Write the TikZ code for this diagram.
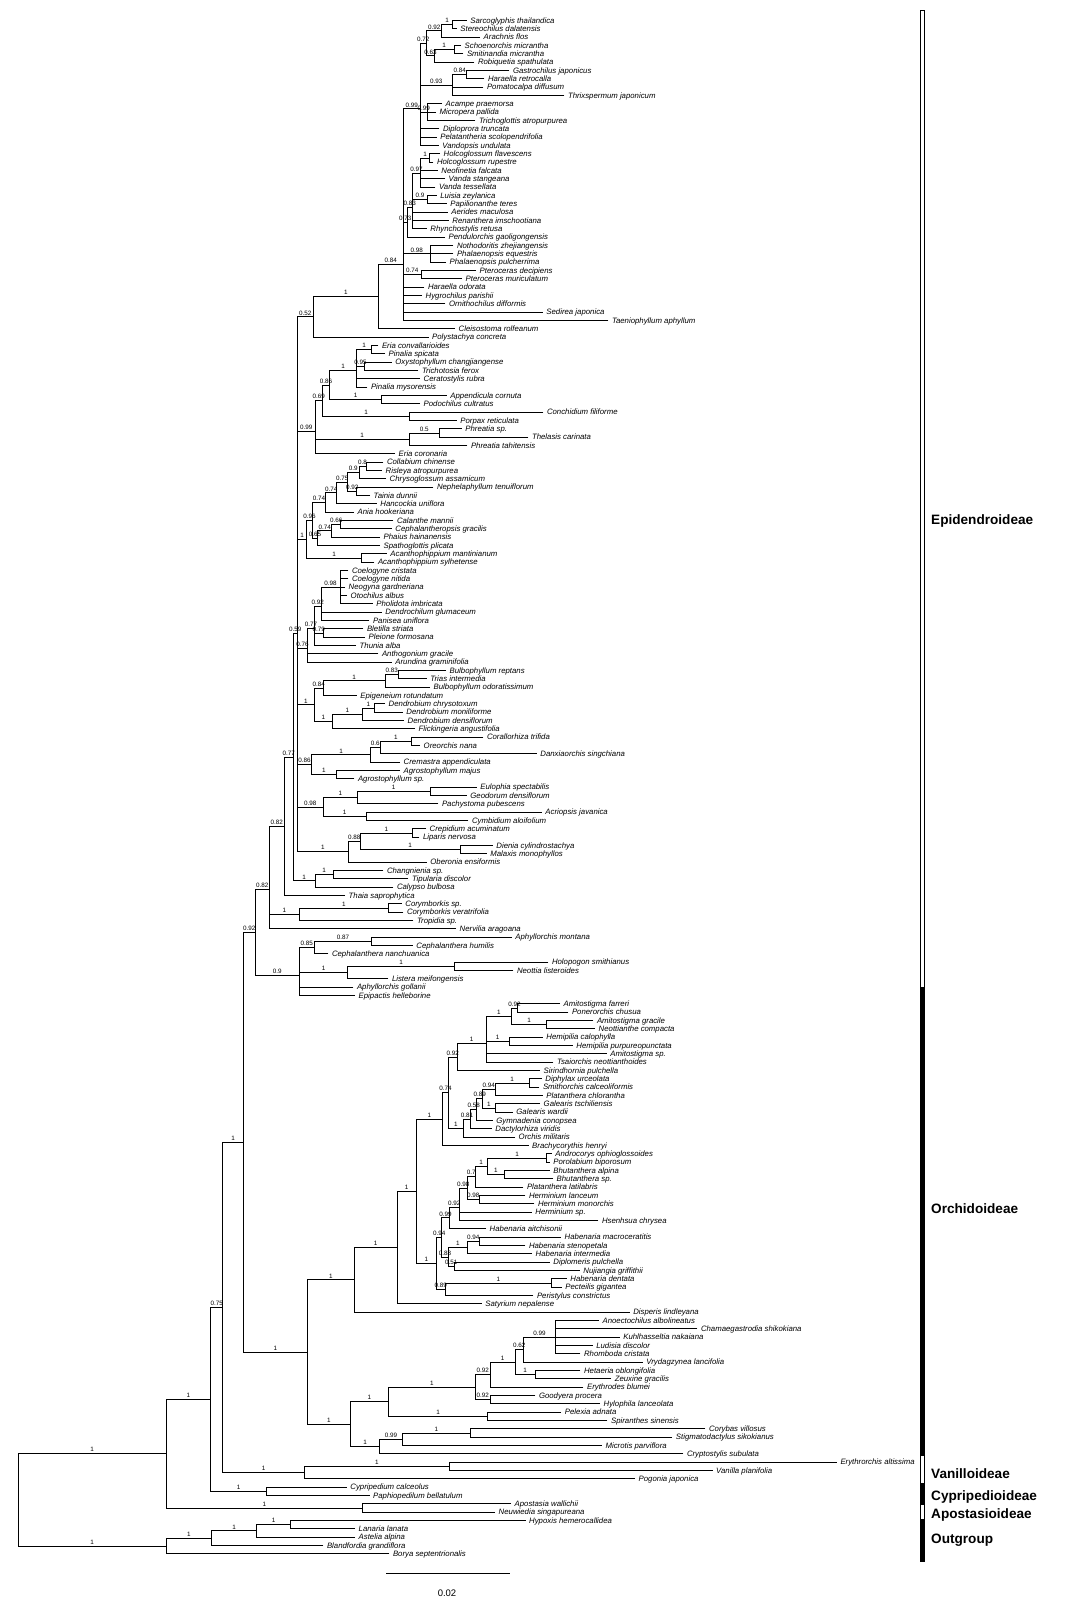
\documentclass[tikz,border=0pt]{standalone}
\usepackage{fontspec}
\setmainfont{Liberation Sans}
\usepackage{xfp}
\newcommand\leaffont{\fontsize{7.8}{9}\selectfont\itshape}
\newcommand\supfont{\fontsize{6.3}{7}\selectfont}
\newcommand\cladefont{\fontsize{13.6}{15}\selectfont\bfseries}
\newcommand\leaf[4]{%
  \expandafter\xdef\csname ty@#1\endcsname{\fpeval{20.5+8.3333*(#2)}}%
  \expandafter\xdef\csname tx@#1\endcsname{#3}%
  \expandafter\gdef\csname sp@#1\endcsname{}%
  \coordinate (#1) at (#3,\csname ty@#1\endcsname);%
  \node[leaflab] (t#1) at (#1) {#4};}
\newcommand\inode[4]{%
  \gdef\tmpsum{0}\gdef\tmpn{0}%
  \foreach \ch in {#4}{\xdef\tmpsum{\fpeval{\tmpsum+\csname ty@\ch\endcsname}}\xdef\tmpn{\fpeval{\tmpn+1}}}%
  \expandafter\xdef\csname ty@#1\endcsname{\fpeval{\tmpsum/\tmpn}}%
  \expandafter\xdef\csname tx@#1\endcsname{#2}%
  \expandafter\gdef\csname sp@#1\endcsname{#3}%
  \coordinate (#1) at (#2,\csname ty@#1\endcsname);%
  \foreach \ch in {#4}{%
    \draw[br] (\ch) -| (#1);%
    \edef\spv{\csname sp@\ch\endcsname}%
    \ifx\spv\empty\else
      \node[sup] (s\ch) at ({(#2+\csname tx@\ch\endcsname)/2},\csname ty@\ch\endcsname) {\spv};%
    \fi}}
\begin{document}
\begin{tikzpicture}[x=1pt,y=-1pt,
  br/.style={line width=0.9pt},
  leaflab/.style={anchor=base west,inner sep=0pt,xshift=3.5pt,yshift=-2.6pt,font=\leaffont},
  sup/.style={anchor=base,inner sep=0pt,yshift=1.8pt,font=\supfont},
  clade/.style={anchor=west,inner sep=0pt,font=\cladefont},
  openbar/.style={draw=black,fill=white,line width=0.8pt},
  fullbar/.style={draw=black,fill=black,line width=0.8pt}]
\fill[white] (0,0) rectangle (1091,1616);
\useasboundingbox (0,0) rectangle (1091,1616);
% ---------------- leaves
\leaf{l0}{0}{466.7}{Sarcoglyphis thailandica}
\leaf{l1}{1}{456.7}{Stereochilus dalatensis}
\leaf{l2}{2}{480}{Arachnis flos}
\leaf{l3}{3}{461}{Schoenorchis micrantha}
\leaf{l4}{4}{463.3}{Smitinandia micrantha}
\leaf{l5}{5}{474.3}{Robiquetia spathulata}
\leaf{l6}{6}{509.3}{Gastrochilus japonicus}
\leaf{l7}{7}{484.3}{Haraella retrocalla}
\leaf{l8}{8}{483.3}{Pomatocalpa diffusum}
\leaf{l9}{9}{564.3}{Thrixspermum japonicum}
\leaf{l10}{10}{442}{Acampe praemorsa}
\leaf{l11}{11}{436}{Micropera pallida}
\leaf{l12}{12}{475.3}{Trichoglottis atropurpurea}
\leaf{l13}{13}{439.3}{Diploprora truncata}
\leaf{l14}{14}{436.7}{Pelatantheria scolopendrifolia}
\leaf{l15}{15}{438.7}{Vandopsis undulata}
\leaf{l16}{16}{440}{Holcoglossum flavescens}
\leaf{l17}{17}{433.3}{Holcoglossum rupestre}
\leaf{l18}{18}{437.7}{Neofinetia falcata}
\leaf{l19}{19}{445}{Vanda stangeana}
\leaf{l20}{20}{435.3}{Vanda tessellata}
\leaf{l21}{21}{436.7}{Luisia zeylanica}
\leaf{l22}{22}{446.7}{Papilionanthe teres}
\leaf{l23}{23}{447.7}{Aerides maculosa}
\leaf{l24}{24}{448.7}{Renanthera imschootiana}
\leaf{l25}{25}{426.7}{Rhynchostylis retusa}
\leaf{l26}{26}{445}{Pendulorchis gaoligongensis}
\leaf{l27}{27}{453.3}{Nothodoritis zhejiangensis}
\leaf{l28}{28}{453.3}{Phalaenopsis equestris}
\leaf{l29}{29}{446}{Phalaenopsis pulcherrima}
\leaf{l30}{30}{476}{Pteroceras decipiens}
\leaf{l31}{31}{462}{Pteroceras muriculatum}
\leaf{l32}{32}{424.3}{Haraella odorata}
\leaf{l33}{33}{422}{Hygrochilus parishii}
\leaf{l34}{34}{445.3}{Ornithochilus difformis}
\leaf{l35}{35}{542.7}{Sedirea japonica}
\leaf{l36}{36}{608.3}{Taeniophyllum aphyllum}
\leaf{l37}{37}{455}{Cleisostoma rolfeanum}
\leaf{l38}{38}{428.5}{Polystachya concreta}
\leaf{l39}{39}{378.3}{Eria convallarioides}
\leaf{l40}{40}{385}{Pinalia spicata}
\leaf{l41}{41}{391.7}{Oxystophyllum changjiangense}
\leaf{l42}{42}{418.3}{Trichotosia ferox}
\leaf{l43}{43}{420}{Ceratostylis rubra}
\leaf{l44}{44}{367.3}{Pinalia mysorensis}
\leaf{l45}{45}{446.7}{Appendicula cornuta}
\leaf{l46}{46}{420}{Podochilus cultratus}
\leaf{l47}{47}{543.3}{Conchidium filiforme}
\leaf{l48}{48}{456.7}{Porpax reticulata}
\leaf{l49}{49}{461.7}{Phreatia sp.}
\leaf{l50}{50}{528.3}{Thelasis carinata}
\leaf{l51}{51}{467.3}{Phreatia tahitensis}
\leaf{l52}{52}{395}{Eria coronaria}
\leaf{l53}{53}{383.3}{Collabium chinense}
\leaf{l54}{54}{382}{Risleya atropurpurea}
\leaf{l55}{55}{386}{Chrysoglossum assamicum}
\leaf{l56}{56}{433.3}{Nephelaphyllum tenuiflorum}
\leaf{l57}{57}{370}{Tainia dunnii}
\leaf{l58}{58}{376.7}{Hancockia uniflora}
\leaf{l59}{59}{354}{Ania hookeriana}
\leaf{l60}{60}{393.3}{Calanthe mannii}
\leaf{l61}{61}{391.7}{Cephalantheropsis gracilis}
\leaf{l62}{62}{380}{Phaius hainanensis}
\leaf{l63}{63}{380}{Spathoglottis plicata}
\leaf{l64}{64}{386.7}{Acanthophippium mantinianum}
\leaf{l65}{65}{374.3}{Acanthophippium sylhetense}
\leaf{l66}{66}{348.3}{Coelogyne cristata}
\leaf{l67}{67}{348.3}{Coelogyne nitida}
\leaf{l68}{68}{345}{Neogyna gardneriana}
\leaf{l69}{69}{347}{Otochilus albus}
\leaf{l70}{70}{372.7}{Pholidota imbricata}
\leaf{l71}{71}{381.7}{Dendrochilum glumaceum}
\leaf{l72}{72}{369.3}{Panisea uniflora}
\leaf{l73}{73}{363.3}{Bletilla striata}
\leaf{l74}{74}{365}{Pleione formosana}
\leaf{l75}{75}{356}{Thunia alba}
\leaf{l76}{76}{378.3}{Anthogonium gracile}
\leaf{l77}{77}{391.7}{Arundina graminifolia}
\leaf{l78}{78}{446}{Bulbophyllum reptans}
\leaf{l79}{79}{426.7}{Trias intermedia}
\leaf{l80}{80}{430}{Bulbophyllum odoratissimum}
\leaf{l81}{81}{356.7}{Epigeneium rotundatum}
\leaf{l82}{82}{385}{Dendrobium chrysotoxum}
\leaf{l83}{83}{402.7}{Dendrobium moniliforme}
\leaf{l84}{84}{404}{Dendrobium densiflorum}
\leaf{l85}{85}{415}{Flickingeria angustifolia}
\leaf{l86}{86}{483.3}{Corallorhiza trifida}
\leaf{l87}{87}{420}{Oreorchis nana}
\leaf{l88}{88}{536.7}{Danxiaorchis singchiana}
\leaf{l89}{89}{400}{Cremastra appendiculata}
\leaf{l90}{90}{400}{Agrostophyllum majus}
\leaf{l91}{91}{354.3}{Agrostophyllum sp.}
\leaf{l92}{92}{476.7}{Eulophia spectabilis}
\leaf{l93}{93}{466.7}{Geodorum densiflorum}
\leaf{l94}{94}{438.3}{Pachystoma pubescens}
\leaf{l95}{95}{541.7}{Acriopsis javanica}
\leaf{l96}{96}{468.3}{Cymbidium aloifolium}
\leaf{l97}{97}{426}{Crepidium acuminatum}
\leaf{l98}{98}{419.3}{Liparis nervosa}
\leaf{l99}{99}{492.7}{Dienia cylindrostachya}
\leaf{l100}{100}{486.7}{Malaxis monophyllos}
\leaf{l101}{101}{426.7}{Oberonia ensiformis}
\leaf{l102}{102}{383.3}{Changnienia sp.}
\leaf{l103}{103}{408.3}{Tipularia discolor}
\leaf{l104}{104}{393.3}{Calypso bulbosa}
\leaf{l105}{105}{345}{Thaia saprophytica}
\leaf{l106}{106}{401.7}{Corymborkis sp.}
\leaf{l107}{107}{403.3}{Corymborkis veratrifolia}
\leaf{l108}{108}{413.3}{Tropidia sp.}
\leaf{l109}{109}{456}{Nervilia aragoana}
\leaf{l110}{110}{511.7}{Aphyllorchis montana}
\leaf{l111}{111}{412.7}{Cephalanthera humilis}
\leaf{l112}{112}{328.3}{Cephalanthera nanchuanica}
\leaf{l113}{113}{548.3}{Holopogon smithianus}
\leaf{l114}{114}{513.3}{Neottia listeroides}
\leaf{l115}{115}{388.3}{Listera meifongensis}
\leaf{l116}{116}{353.3}{Aphyllorchis gollanii}
\leaf{l117}{117}{355}{Epipactis helleborine}
\leaf{l118}{118}{560}{Amitostigma farreri}
\leaf{l119}{119}{568.3}{Ponerorchis chusua}
\leaf{l120}{120}{593.3}{Amitostigma gracile}
\leaf{l121}{121}{595}{Neottianthe compacta}
\leaf{l122}{122}{542.7}{Hemipilia calophylla}
\leaf{l123}{123}{572.7}{Hemipilia purpureopunctata}
\leaf{l124}{124}{606.7}{Amitostigma sp.}
\leaf{l125}{125}{553.3}{Tsaiorchis neottianthoides}
\leaf{l126}{126}{540}{Sirindhornia pulchella}
\leaf{l127}{127}{541.7}{Diphylax urceolata}
\leaf{l128}{128}{539.3}{Smithorchis calceoliformis}
\leaf{l129}{129}{542.7}{Platanthera chlorantha}
\leaf{l130}{130}{540}{Galearis tschiliensis}
\leaf{l131}{131}{512.7}{Galearis wardii}
\leaf{l132}{132}{492.7}{Gymnadenia conopsea}
\leaf{l133}{133}{491.7}{Dactylorhiza viridis}
\leaf{l134}{134}{515}{Orchis militaris}
\leaf{l135}{135}{528.5}{Brachycorythis henryi}
\leaf{l136}{136}{551.7}{Androcorys ophioglossoides}
\leaf{l137}{137}{549.7}{Porolabium biporosum}
\leaf{l138}{138}{549.7}{Bhutanthera alpina}
\leaf{l139}{139}{553}{Bhutanthera sp.}
\leaf{l140}{140}{523.3}{Platanthera latilabris}
\leaf{l141}{141}{525.3}{Herminium lanceum}
\leaf{l142}{142}{534.3}{Herminium monorchis}
\leaf{l143}{143}{531.7}{Herminium sp.}
\leaf{l144}{144}{598.3}{Hsenhsua chrysea}
\leaf{l145}{145}{486}{Habenaria aitchisonii}
\leaf{l146}{146}{561}{Habenaria macroceratitis}
\leaf{l147}{147}{525.3}{Habenaria stenopetala}
\leaf{l148}{148}{532}{Habenaria intermedia}
\leaf{l149}{149}{549.7}{Diplomeris pulchella}
\leaf{l150}{150}{579.7}{Nujiangia griffithii}
\leaf{l151}{151}{566.7}{Habenaria dentata}
\leaf{l152}{152}{561.7}{Pecteilis gigantea}
\leaf{l153}{153}{533.3}{Peristylus constrictus}
\leaf{l154}{154}{481.6}{Satyrium nepalense}
\leaf{l155}{155}{629.6}{Disperis lindleyana}
\leaf{l156}{156}{598.9}{Anoectochilus albolineatus}
\leaf{l157}{157}{697.3}{Chamaegastrodia shikokiana}
\leaf{l158}{158}{619.6}{Kuhlhasseltia nakaiana}
\leaf{l159}{159}{592.6}{Ludisia discolor}
\leaf{l160}{160}{580.4}{Rhomboda cristata}
\leaf{l161}{161}{642.6}{Vrydagzynea lancifolia}
\leaf{l162}{162}{580.4}{Hetaeria oblongifolia}
\leaf{l163}{163}{611.1}{Zeuxine gracilis}
\leaf{l164}{164}{583.4}{Erythrodes blumei}
\leaf{l165}{165}{535.3}{Goodyera procera}
\leaf{l166}{166}{600}{Hylophila lanceolata}
\leaf{l167}{167}{561.2}{Pelexia adnata}
\leaf{l168}{168}{607.4}{Spiranthes sinensis}
\leaf{l169}{169}{705.4}{Corybas villosus}
\leaf{l170}{170}{672.2}{Stigmatodactylus sikokianus}
\leaf{l171}{171}{601.9}{Microtis parviflora}
\leaf{l172}{172}{683.3}{Cryptostylis subulata}
\leaf{l173}{173}{836.8}{Erythrorchis altissima}
\leaf{l174}{174}{712.5}{Vanilla planifolia}
\leaf{l175}{175}{635}{Pogonia japonica}
\leaf{l176}{176}{346.7}{Cypripedium calceolus}
\leaf{l177}{177}{369.5}{Paphiopedilum bellatulum}
\leaf{l178}{178}{511}{Apostasia wallichii}
\leaf{l179}{179}{495}{Neuwiedia singapureana}
\leaf{l180}{180}{525.5}{Hypoxis hemerocallidea}
\leaf{l181}{181}{355}{Lanaria lanata}
\leaf{l182}{182}{355}{Astelia alpina}
\leaf{l183}{183}{323.3}{Blandfordia grandiflora}
\leaf{l184}{184}{389.3}{Borya septentrionalis}
% ---------------- Aeridinae
\inode{a1}{452.7}{1}{l0,l1}
\inode{a2}{441.7}{0.92}{a1,l2}
\inode{a3}{454}{1}{l3,l4}
\inode{a4}{434.3}{0.63}{a3,l5}
\inode{a5}{426.7}{0.72}{a2,a4}
\inode{a6}{466.7}{0.84}{l6,l7}
\inode{a7}{452.7}{0.93}{a6,l8,l9}
\inode{a8}{427.7}{0.99}{l10,l11,l12}
\inode{a9}{420}{0.99}{a5,a7,a8,l13,l14,l15}
\inode{a10}{429.3}{1}{l16,l17}
\inode{a11}{420.7}{0.97}{a10,l18,l19,l20}
\inode{a12}{427.7}{0.9}{l21,l22}
\inode{a13}{412.3}{0.83}{a11,a12,l23,l24,l25}
\inode{a14}{407.3}{0.73}{a13,l26}
\inode{a15}{430}{0.98}{l27,l28,l29}
\inode{a16}{421}{0.74}{l30,l31}
\inode{a17}{403.3}{0.84}{a9,a14,a15,a16,l32,l33,l34,l35,l36}
\inode{a18}{378.3}{1}{a17,l37}
\inode{a19}{313.3}{0.52}{a18,l38}
% ---------------- Podochileae
\inode{b1}{371.7}{1}{l39,l40}
\inode{b2}{364.3}{0.95}{l41,l42}
\inode{b3}{356.7}{1}{b1,b2,l43,l44}
\inode{b4}{381.7}{1}{l45,l46}
\inode{b5}{329.3}{0.86}{b3,b4}
\inode{b6}{409.3}{1}{l47,l48}
\inode{b7}{322.7}{0.69}{b5,b6}
\inode{b8}{439.3}{0.5}{l49,l50}
\inode{b9}{409.3}{1}{b8,l51}
\inode{b10}{315}{0.99}{b7,b9,l52}
% ---------------- Collabieae
\inode{c1}{366}{0.8}{l53,l54}
\inode{c2}{359}{0.9}{c1,l55}
\inode{c3}{356.7}{0.92}{l56,l57}
\inode{c4}{347.7}{0.75}{c2,c3}
\inode{c5}{336.7}{0.74}{c4,l58}
\inode{c6}{325.7}{0.74}{c5,l59}
\inode{c7}{340.7}{0.66}{l60,l61}
\inode{c8}{331.7}{0.74}{c7,l62}
\inode{c9}{317.7}{0.65}{c8,l63}
\inode{c10}{312.3}{0.96}{c6,c9}
\inode{c11}{361.7}{1}{l64,l65}
\inode{c12}{306.7}{1}{c10,c11}
% ---------------- Arethuseae
\inode{d1}{340}{0.98}{l66,l67,l68,l69,l70}
\inode{d2}{321}{0.92}{d1,l71,l72}
\inode{d3}{323.3}{0.79}{l73,l74}
\inode{d4}{314.3}{0.77}{d2,d3,l75}
\inode{d5}{307.7}{0.76}{d4,l76,l77}
% ---------------- Dendrobieae
\inode{e1}{398.3}{0.83}{l78,l79}
\inode{e2}{385}{1}{e1,l80}
\inode{e3}{323.3}{0.84}{e2,l81}
\inode{e4}{374.3}{1}{l82,l83}
\inode{e5}{362.3}{1}{e4,l84}
\inode{e6}{332.3}{1}{e5,l85}
\inode{e7}{314.3}{1}{e3,e6}
% ---------------- Cymbidieae etc.
\inode{f1}{411.7}{1}{l86,l87}
\inode{f2}{380}{0.6}{f1,l88}
\inode{f3}{370.7}{1}{f2,l89}
\inode{f4}{336}{1}{l90,l91}
\inode{f5}{311.7}{0.86}{f3,f4}
\inode{f6}{430}{1}{l92,l93}
\inode{f7}{357.3}{1}{f6,l94}
\inode{f8}{366}{1}{l95,l96}
\inode{f9}{323.3}{0.98}{f7,f8}
\inode{g1}{412.7}{1}{l97,l98}
\inode{g2}{460}{1}{l99,l100}
\inode{g3}{360}{0.88}{g1,g2}
\inode{g4}{348.3}{1}{g3,l101}
\inode{E59}{297.3}{0.59}{a19,b10,c12,d5,e7,f5,f9,g4}
\inode{h1}{333.3}{1}{l102,l103}
\inode{h2}{315}{1}{h1,l104}
\inode{E77}{293.3}{0.77}{E59,h2}
\inode{E82a}{284}{0.82}{E77,l105}
\inode{i1}{388.3}{1}{l106,l107}
\inode{i2}{299.3}{1}{i1,l108}
\inode{E82b}{269.3}{0.82}{E82a,i2,l109}
\inode{j1}{371.7}{0.87}{l110,l111}
\inode{j2}{314.3}{0.85}{j1,l112}
\inode{j3}{454.3}{1}{l113,l114}
\inode{j4}{347.7}{1}{j3,l115}
\inode{j5}{299.3}{0.9}{j2,j4,l116,l117}
\inode{N92}{255}{0.92}{E82b,j5}
% ---------------- Orchideae
\inode{k1}{517.3}{0.92}{l118,l119}
\inode{k2}{546.7}{1}{l120,l121}
\inode{k3}{511.7}{1}{k1,k2}
\inode{k4}{509.3}{1}{l122,l123}
\inode{k5}{486}{1}{k3,k4,l124,l125}
\inode{k6}{457.3}{0.92}{k5,l126}
\inode{k7}{529.3}{1}{l127,l128}
\inode{k8}{495}{0.94}{k7,l129}
\inode{k9}{495}{1}{l130,l131}
\inode{k10}{482.7}{0.89}{k8,k9}
\inode{k11}{476.7}{0.58}{k10,l132}
\inode{k12}{470.7}{0.81}{k11,l133}
\inode{k13}{463.3}{1}{k12,l134}
\inode{k14}{448.3}{0.74}{k6,k13}
\inode{k15}{442.7}{1}{k14,l135}
\inode{m1}{546.7}{1}{l136,l137}
\inode{m2}{504.3}{1}{l138,l139}
\inode{m3}{487.3}{1}{m1,m2}
\inode{m4}{475}{0.7}{m3,l140}
\inode{m5}{479}{0.98}{l141,l142}
\inode{m6}{467.7}{0.98}{m4,m5}
\inode{m7}{459}{0.92}{m6,l143,l144}
\inode{m8}{449.3}{0.99}{m7,l145}
\inode{m9}{479.3}{0.94}{l146,l147}
\inode{m10}{467.3}{1}{m9,l148}
\inode{m11}{454}{0.51}{l149,l150}
\inode{m12}{448.3}{0.88}{m10,m11}
\inode{m13}{441.7}{0.94}{m8,m12}
\inode{m14}{551.7}{1}{l151,l152}
\inode{m15}{445}{0.89}{m14,l153}
\inode{m16}{436.7}{1}{m13,m15}
\inode{O1}{416}{1}{k15,m16}
\inode{O2}{397}{1}{O1,l154}
\inode{O3}{354.3}{1}{O2,l155}
% ---------------- Cranichideae / Diurideae
\inode{p1}{555.6}{0.99}{l156,l157,l158,l159,l160}
\inode{p2}{523.4}{0.62}{p1,l161}
\inode{p3}{535.3}{1}{l162,l163}
\inode{p4}{515}{1}{p2,p3}
\inode{p5}{490.1}{0.92}{p4,l164}
\inode{p6}{490.1}{0.92}{l165,l166}
\inode{p7}{475.3}{1}{p5,p6}
\inode{p8}{487.9}{1}{l167,l168}
\inode{p9}{388.4}{1}{p7,p8}
\inode{q1}{470.5}{1}{l169,l170}
\inode{q2}{402.1}{0.99}{q1,l171}
\inode{q3}{379.9}{1}{q2,l172}
\inode{P1}{350.3}{1}{p9,q3}
\inode{ORC}{307.3}{1}{O3,P1}
\inode{N1orch}{243.3}{1}{N92,ORC}
% ---------------- basal
\inode{v1}{449.4}{1}{l173,l174}
\inode{v2}{304.3}{1}{v1,l175}
\inode{N75}{222.7}{0.75}{N1orch,v2}
\inode{cy}{266.7}{1}{l176,l177}
\inode{N1b}{210.7}{1}{N75,cy}
\inode{ap}{362.7}{1}{l178,l179}
\inode{N1c}{166}{1}{N1b,ap}
\inode{o1}{290.7}{1}{l180,l181}
\inode{o2}{256.7}{1}{o1,l182}
\inode{o3}{211.7}{1}{o2,l183}
\inode{o4}{166}{1}{o3,l184}
\inode{root}{18.3}{}{N1c,o4}
% ---------------- clade bars
\draw[openbar] (920,10.3) rectangle (924,987);
\draw[fullbar] (920,987) rectangle (924,1455);
\draw[openbar] (920,1455) rectangle (924,1483);
\draw[fullbar] (920,1483) rectangle (924,1504);
\draw[openbar] (920,1504) rectangle (924,1519.5);
\draw[fullbar] (920,1519.5) rectangle (924,1561);
\node[clade] (cEpi) at (931,521) {Epidendroideae};
\node[clade] (cOrc) at (931,1209) {Orchidoideae};
\node[clade] (cVan) at (931,1474) {Vanilloideae};
\node[clade] (cCyp) at (931,1497) {Cypripedioideae};
\node[clade] (cApo) at (931,1515) {Apostasioideae};
\node[clade] (cOut) at (931,1540) {Outgroup};
% ---------------- scale bar
\coordinate (sb1) at (386,1573);
\coordinate (sb2) at (510,1573);
\draw[br] (sb1) -- (sb2);
\node[font=\fontsize{9.5}{11}\selectfont] (sbl) at (447,1593) {0.02};
\end{tikzpicture}
\end{document}
